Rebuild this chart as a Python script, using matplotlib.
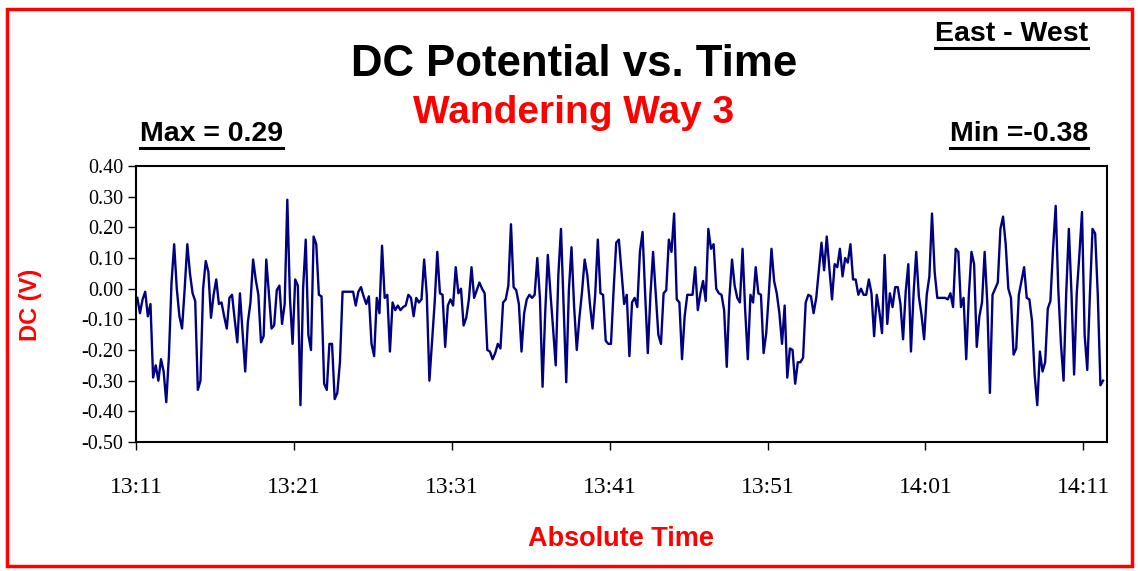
import datetime as dt
import matplotlib
matplotlib.use("Agg")
import matplotlib.pyplot as plt
from matplotlib.patches import Rectangle
from matplotlib.lines import Line2D

# ---------------- data ----------------
title = "DC Potential vs. Time"
subtitle = "Wandering Way 3"
direction = "East - West"
max_label = "Max = 0.29"
min_label = "Min =-0.38"
x_label = "Absolute Time"
y_label = "DC (V)"

start_time = "13:11:05"
interval_s = 10

dc_volts = [
    -0.03, -0.08, -0.035, -0.01, -0.09, -0.05, -0.29, -0.25, -0.30, -0.23, -0.27, -0.37,
    -0.22, 0.02, 0.145, 0.0, -0.09, -0.13, 0.0, 0.145, 0.05, -0.015, -0.04, -0.33,
    -0.30, 0.0, 0.09, 0.055, -0.095, -0.02, 0.03, -0.05, -0.045, -0.09, -0.13, -0.03,
    -0.02, -0.10, -0.175, -0.015, -0.14, -0.27, -0.11, -0.045, 0.095, 0.03, -0.02, -0.175,
    -0.155, 0.095, -0.015, -0.13, -0.12, -0.005, 0.01, -0.115, -0.05, 0.29, -0.03, -0.18,
    0.03, 0.01, -0.38, 0.0, 0.16, -0.15, -0.2, 0.17, 0.145, -0.02, -0.025, -0.31,
    -0.33, -0.18, -0.18, -0.36, -0.34, -0.24, -0.01, -0.01, -0.01, -0.01, -0.01, -0.055,
    -0.01, 0.005, -0.025, -0.05, -0.025, -0.18, -0.22, -0.03, -0.08, 0.14, -0.03, -0.02,
    -0.205, -0.045, -0.07, -0.055, -0.07, -0.06, -0.055, -0.02, -0.03, -0.09, -0.03, -0.045,
    -0.035, 0.095, -0.02, -0.30, -0.17, -0.045, 0.12, -0.015, -0.02, -0.19, -0.055, -0.035,
    -0.055, 0.07, -0.015, 0.0, -0.12, -0.095, -0.035, 0.07, -0.03, -0.005, 0.02, 0.0,
    -0.015, -0.20, -0.205, -0.23, -0.21, -0.18, -0.195, -0.045, -0.035, 0.01, 0.21, 0.005,
    -0.005, -0.05, -0.205, -0.08, -0.035, -0.02, -0.03, -0.02, 0.10, -0.03, -0.32, -0.08,
    0.11, -0.015, -0.13, -0.25, 0.045, 0.195, -0.06, -0.305, -0.005, 0.135, -0.06, -0.20,
    -0.095, -0.01, 0.095, 0.045, -0.05, -0.13, -0.02, 0.16, -0.015, -0.02, -0.17, -0.18,
    -0.18, -0.005, 0.15, 0.16, 0.055, -0.05, -0.02, -0.22, -0.045, -0.03, -0.06, 0.12,
    0.185, -0.02, -0.21, -0.02, 0.12, -0.015, -0.15, -0.18, -0.015, -0.005, 0.16, 0.12,
    0.245, -0.035, -0.045, -0.23, -0.09, -0.02, -0.02, -0.02, 0.07, -0.07, -0.015, 0.025,
    -0.04, 0.195, 0.13, 0.145, 0.0, -0.015, -0.02, -0.07, -0.255, -0.03, 0.095, 0.01,
    -0.03, -0.045, 0.13, -0.07, -0.23, -0.02, -0.045, 0.07, -0.015, -0.02, -0.21, -0.145,
    -0.015, 0.13, 0.025, -0.015, -0.08, -0.18, -0.055, -0.29, -0.195, -0.20, -0.31, -0.24,
    -0.24, -0.225, -0.045, -0.02, -0.025, -0.08, -0.03, 0.06, 0.15, 0.06, 0.17, 0.065,
    -0.035, 0.08, 0.07, 0.13, 0.04, 0.10, 0.085, 0.145, 0.03, 0.03, -0.02, 0.0,
    -0.02, -0.02, 0.03, -0.015, -0.155, -0.02, -0.075, -0.145, 0.11, -0.115, -0.015, -0.06,
    0.005, 0.005, -0.05, -0.165, -0.01, 0.08, -0.205, -0.015, 0.12, -0.025, -0.085, -0.165,
    -0.02, 0.04, 0.245, 0.055, -0.03, -0.03, -0.03, -0.03, -0.035, -0.015, -0.06, 0.13,
    0.12, -0.06, -0.03, -0.23, -0.02, 0.12, 0.08, -0.19, -0.09, -0.045, 0.12,
    -0.045, -0.34, -0.02, 0.0, 0.02, 0.195, 0.235, 0.145, 0.0, -0.03, -0.215, -0.195,
    -0.02, 0.025, 0.07, -0.03, -0.035, -0.105, -0.28, -0.38, -0.205, -0.27, -0.24, -0.065,
    -0.04, 0.13, 0.27, -0.005, -0.18, -0.30, -0.015, 0.195, -0.015, -0.28, -0.015, 0.11,
    0.25, -0.15, -0.265, -0.02, 0.195, 0.18, -0.02, -0.315, -0.30,
]

x_tick_labels = ["13:11", "13:21", "13:31", "13:41", "13:51", "14:01", "14:11"]
x_max_time = "14:12:30"
y_ticks = [-0.50, -0.40, -0.30, -0.20, -0.10, 0.00, 0.10, 0.20, 0.30, 0.40]

# ---------------- build ----------------
day = dt.date(2000, 1, 1)
def to_dt(s):
    parts = [int(p) for p in s.split(":")]
    while len(parts) < 3:
        parts.append(0)
    return dt.datetime.combine(day, dt.time(*parts))

t0 = to_dt(start_time)
times = [t0 + dt.timedelta(seconds=interval_s * i) for i in range(len(dc_volts))]

W, H = 1138, 571
fig = plt.figure(figsize=(W / 100, H / 100), dpi=100)
fig.patch.set_facecolor("white")

ax = fig.add_axes([136 / W, 1 - 442 / H, (1107 - 136) / W, (442 - 166) / H])
ax.plot(times, dc_volts, color="#000080", lw=1.7)

ax.set_ylim(-0.50, 0.40)
ax.set_yticks(y_ticks)
ax.set_yticklabels([f"{v:.2f}" for v in y_ticks])
xt = [to_dt(s) for s in x_tick_labels]
ax.set_xticks(xt)
ax.set_xticklabels(x_tick_labels)
ax.set_xlim(to_dt(x_tick_labels[0]), to_dt(x_max_time))

serif = ["Liberation Serif", "DejaVu Serif"]
sans = ["Liberation Sans", "DejaVu Sans"]
for lab in ax.get_yticklabels():
    lab.set_fontfamily(serif)
    lab.set_fontsize(14.5)
for lab in ax.get_xticklabels():
    lab.set_fontfamily(serif)
    lab.set_fontsize(17)
ax.tick_params(axis="y", direction="out", length=6, width=1, pad=3, colors="black")
ax.tick_params(axis="x", direction="out", length=6, width=1, pad=19, colors="black")
for sp in ax.spines.values():
    sp.set_linewidth(1.5)
    sp.set_color("black")

def fy(y):
    return 1 - y / H

fig.text(574 / W, fy(76), title, ha="center", va="baseline", fontsize=31.5,
         fontweight="bold", family=sans, color="black")
fig.text(574 / W, fy(123), subtitle, ha="center", va="baseline", fontsize=28,
         fontweight="bold", family=sans, color="#ff0000")
t_dir = fig.text(1088 / W, fy(41), direction, ha="right", va="baseline", fontsize=20.5,
                 fontweight="bold", family=sans, color="black")
t_max = fig.text(140 / W, fy(141), max_label, ha="left", va="baseline", fontsize=20.5,
                 fontweight="bold", family=sans, color="black")
t_min = fig.text(1088 / W, fy(141), min_label, ha="right", va="baseline", fontsize=20.5,
                 fontweight="bold", family=sans, color="black")
fig.text(621 / W, fy(546), x_label, ha="center", va="baseline", fontsize=19.5,
         fontweight="bold", family=sans, color="#ff0000")
fig.text(31 / W, fy(305), y_label, ha="center", va="center", rotation=90, fontsize=17,
         fontweight="bold", family=sans, color="#ff0000")

# underlines
fig.canvas.draw()
renderer = fig.canvas.get_renderer()
for t, base in ((t_dir, 41), (t_max, 141), (t_min, 141)):
    bb = t.get_window_extent(renderer)
    yline = fy(base + 7)
    fig.add_artist(Line2D([bb.x0 / W, bb.x1 / W], [yline, yline], color="black",
                          lw=2.2, transform=fig.transFigure))

# red border
fig.add_artist(Rectangle((7 / W, 1 - 566 / H), (1132 - 7) / W, (566 - 9) / H,
                         transform=fig.transFigure, fill=False, edgecolor="#ff0000", lw=2.5))

fig.savefig("out.png", dpi=100, facecolor="white")
